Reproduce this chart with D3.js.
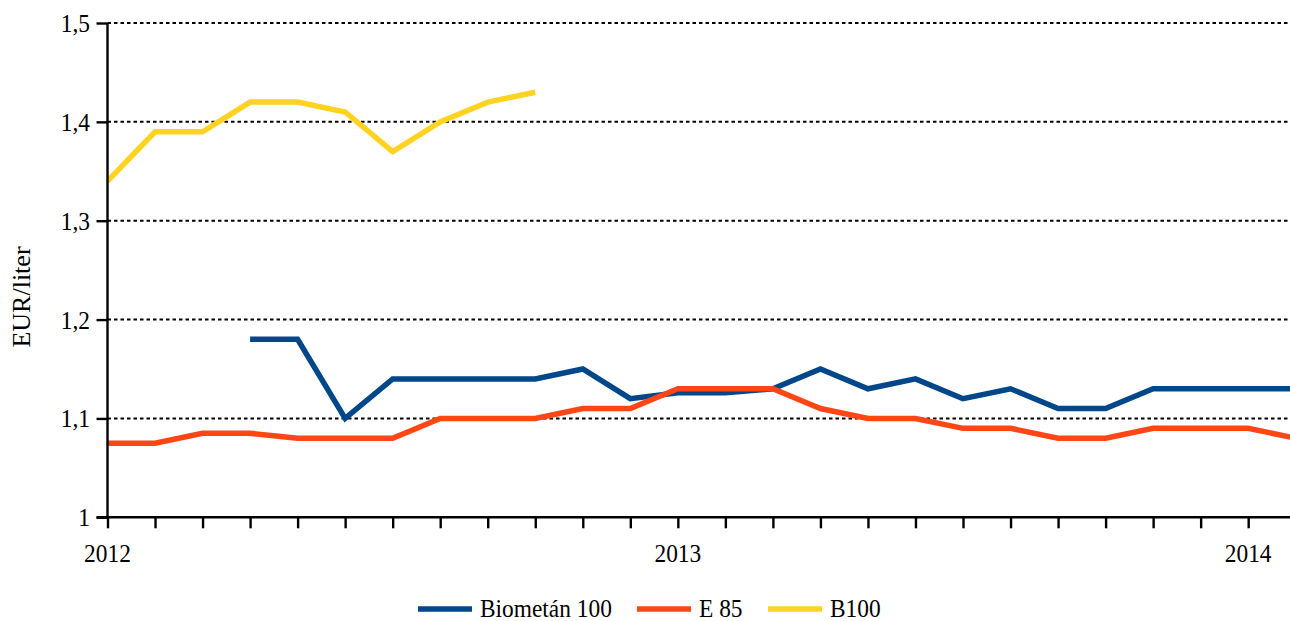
<!DOCTYPE html>
<html>
<head>
<meta charset="utf-8">
<script src="https://cdn.jsdelivr.net/npm/d3@7"></script>
<style>
	body { margin: 0; background: #fff; }
	svg text { font-family: "Liberation Serif", "Times New Roman", serif; fill: #000; }
</style>
</head>
<body>
<svg id="chart" width="1290" height="621"></svg>
<script>
// months from Jan 2012 (index 0) to Feb 2014 (index 25)
var months = d3.range(26);
var year_labels = [{m: 0, text: '2012'}, {m: 12, text: '2013'}, {m: 24, text: '2014'}];
var y_ticks = [1, 1.1, 1.2, 1.3, 1.4, 1.5];

var biometan = [null, null, null, 1.18, 1.18, 1.10, 1.14, 1.14, 1.14, 1.14, 1.15, 1.12,
	1.126, 1.126, 1.13, 1.15, 1.13, 1.14, 1.12, 1.13, 1.11, 1.11, 1.13, 1.13, 1.13, 1.13];
var e85 = [1.075, 1.075, 1.085, 1.085, 1.08, 1.08, 1.08, 1.10, 1.10, 1.10, 1.11, 1.11,
	1.13, 1.13, 1.13, 1.11, 1.10, 1.10, 1.09, 1.09, 1.08, 1.08, 1.09, 1.09, 1.09, 1.08];
var b100 = [1.34, 1.39, 1.39, 1.42, 1.42, 1.41, 1.37, 1.40, 1.42, 1.43, null, null,
	null, null, null, null, null, null, null, null, null, null, null, null, null, null];

var series = [
	{name: 'Biometán 100', values: biometan, color: '#00478a'},
	{name: 'E 85', values: e85, color: '#ff4614'},
	{name: 'B100', values: b100, color: '#ffd320'}
];

var svg = d3.select('#chart');
var plot_left = 107.5, plot_right = 1290, plot_top = 23, plot_bottom = 517.3;
var font_size = 26, squeeze = 0.9;

var x = d3.scaleLinear().domain([0, 24.88]).range([plot_left, plot_right]);
var y = d3.scaleLinear().domain([1, 1.5]).range([plot_bottom, plot_top]);

// text a bit narrower than it is tall, like the original
function place(sel, fx, fy) {
	sel.attr('transform', function (d, i) {
		return 'translate(' + fx(d, i) + ',' + fy(d, i) + ') scale(' + squeeze + ',1)';
	}).attr('font-size', font_size);
}

svg.append('defs').append('clipPath').attr('id', 'plot-clip')
	.append('rect').attr('x', plot_left).attr('y', 0)
	.attr('width', plot_right - plot_left).attr('height', plot_bottom + 5);

// dotted gridlines
svg.append('g').selectAll('line')
	.data(y_ticks.slice(1))
	.enter().append('line')
	.attr('x1', plot_left).attr('x2', plot_right)
	.attr('y1', function (d) { return y(d); })
	.attr('y2', function (d) { return y(d); })
	.attr('stroke', '#000')
	.attr('stroke-width', 2)
	.attr('stroke-dasharray', '3.5,3');

// lines
var line = d3.line()
	.defined(function (d) { return d != null; })
	.x(function (d, i) { return x(i); })
	.y(function (d) { return y(d); });

svg.append('g').attr('clip-path', 'url(#plot-clip)').selectAll('path')
	.data(series)
	.enter().append('path')
	.attr('d', function (s) { return line(s.values); })
	.attr('fill', 'none')
	.attr('stroke', function (s) { return s.color; })
	.attr('stroke-width', 5.5);

// y axis
var y_axis = svg.append('g').attr('transform', 'translate(' + plot_left + ',0)')
	.call(d3.axisLeft(y).tickValues(y_ticks).tickSize(11).tickFormat(''));
y_axis.select('.domain').attr('stroke-width', 2.4).attr('d', 'M0,' + plot_top + 'V' + plot_bottom);
y_axis.selectAll('.tick line').attr('stroke-width', 2.4);

svg.append('g').selectAll('text')
	.data(y_ticks)
	.enter().append('text')
	.attr('text-anchor', 'end')
	.call(place, function () { return 90; }, function (d) { return y(d) + 9; })
	.text(function (d) { return d3.format('.1~f')(d).replace('.', ','); });

// x axis
var x_axis = svg.append('g').attr('transform', 'translate(0,' + plot_bottom + ')')
	.call(d3.axisBottom(x).tickValues(months.slice(0, 25)).tickSize(11).tickFormat(''));
x_axis.select('.domain').attr('stroke-width', 2.4).attr('d', 'M' + (plot_left - 11) + ',0H' + plot_right);
x_axis.selectAll('.tick line').attr('stroke-width', 2.4);

svg.append('g').selectAll('text')
	.data(year_labels)
	.enter().append('text')
	.attr('text-anchor', 'middle')
	.call(place, function (d) { return x(d.m); }, function () { return 562; })
	.text(function (d) { return d.text; });

// y label
svg.append('text')
	.attr('transform', 'translate(30,297) rotate(-90)')
	.attr('text-anchor', 'middle')
	.attr('font-size', 26)
	.text('EUR/liter');

// legend
var legend_x = [418, 637, 768];
var legend = svg.append('g').selectAll('g')
	.data(series)
	.enter().append('g')
	.attr('transform', function (s, i) { return 'translate(' + legend_x[i] + ',609)'; });
legend.append('line')
	.attr('x1', 0).attr('x2', 54)
	.attr('stroke', function (s) { return s.color; })
	.attr('stroke-width', 5.5);
legend.append('text')
	.call(place, function () { return 62; }, function () { return 8; })
	.text(function (s) { return s.name; });
</script>
</body>
</html>
